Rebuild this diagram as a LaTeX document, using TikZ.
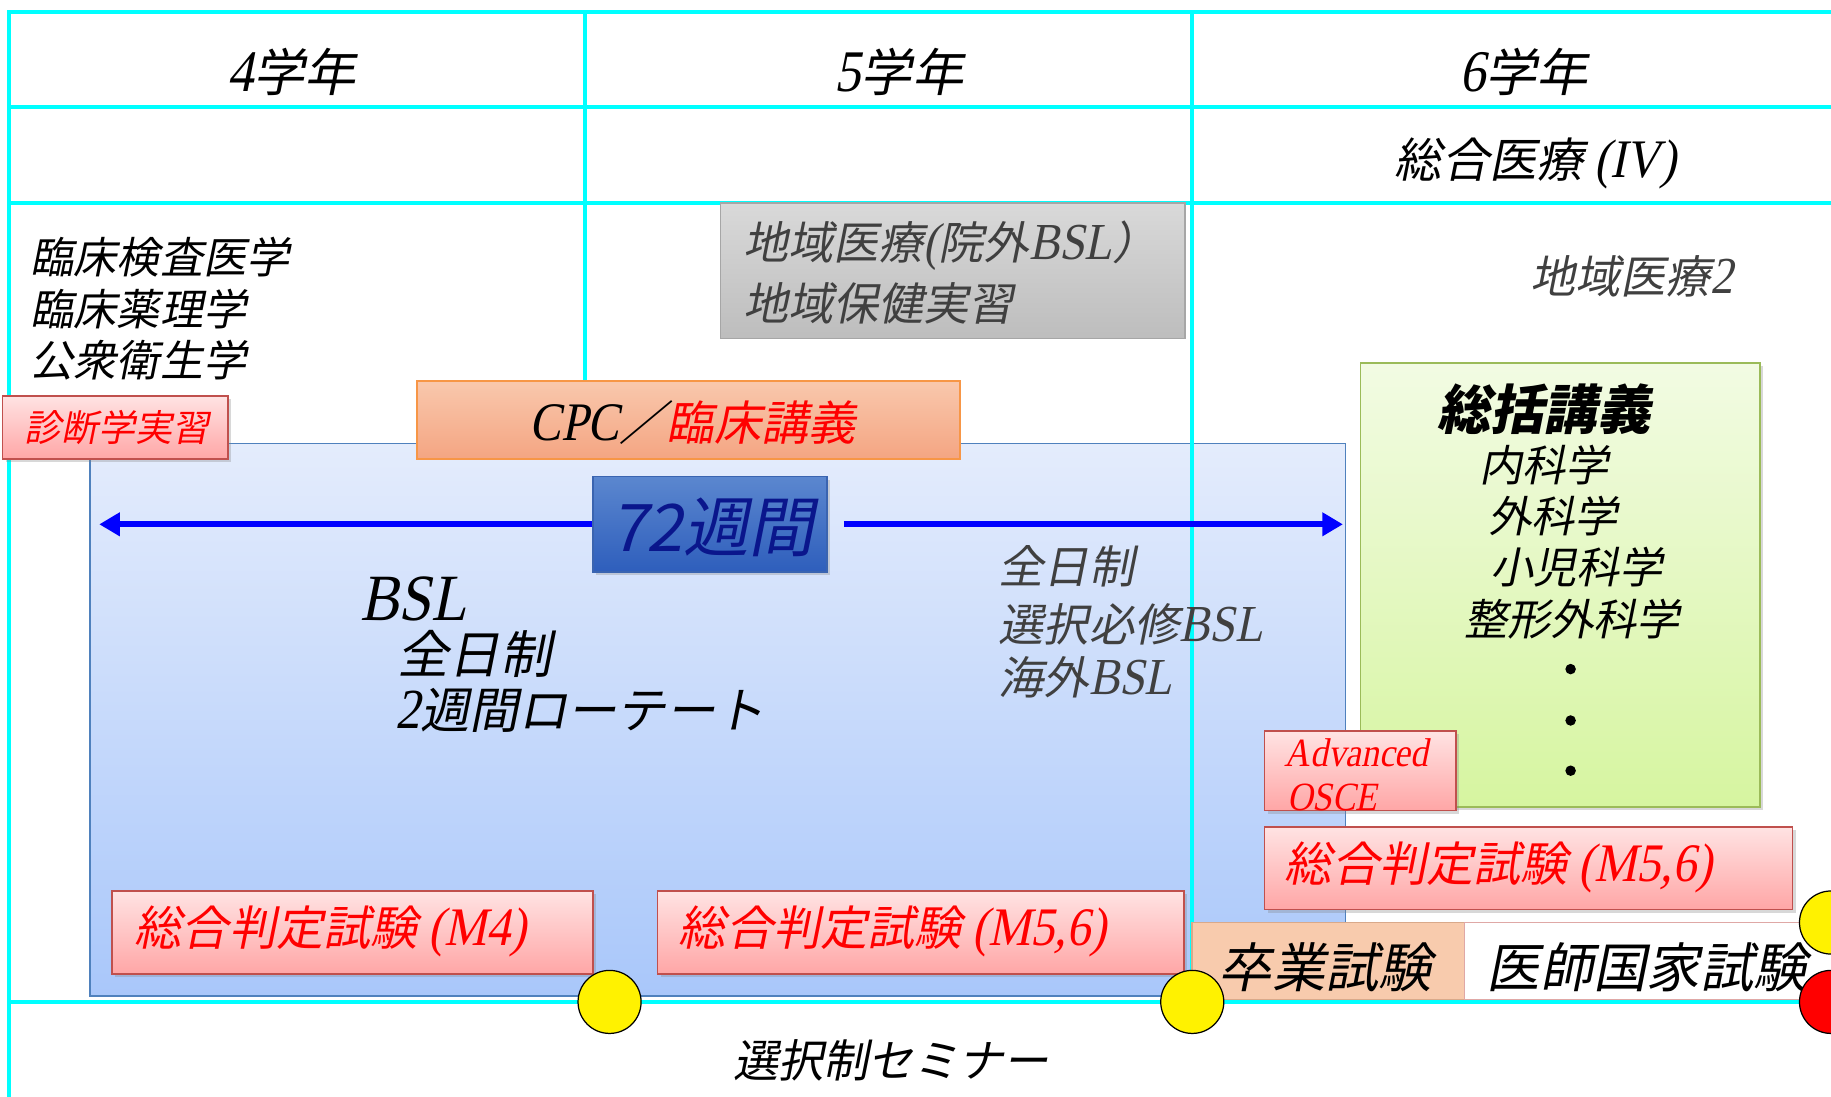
\documentclass[tikz,border=0pt]{standalone}
\usepackage{fontspec}
\setmainfont{Liberation Serif}
\newfontfamily\jpf[FakeSlant=0.2]{Noto Sans CJK JP}
\newfontfamily\latf[FakeSlant=0.2,FakeStretch=0.88,Scale=1.15]{Liberation Serif}
\usetikzlibrary{arrows.meta,shadows}
\newdimen\uu \uu=0.02cm
\newcommand\E[1]{{\latf #1}}
\newcommand\fs[1]{\fontsize{#1pt}{#1pt}\selectfont}
\definecolor{cyanline}{HTML}{00FFFF}
\definecolor{bslTop}{HTML}{E4ECFC}
\definecolor{bslBot}{HTML}{A9C7FA}
\definecolor{bslEdge}{HTML}{4F81BD}
\definecolor{pinkTop}{HTML}{FFE3E3}
\definecolor{pinkBot}{HTML}{FFA6A6}
\definecolor{pinkEdge}{HTML}{C0504D}
\definecolor{cpcTop}{HTML}{F9C8AD}
\definecolor{cpcBot}{HTML}{F4A582}
\definecolor{cpcEdge}{HTML}{F79646}
\definecolor{grayTop}{HTML}{D9D9D9}
\definecolor{grayBot}{HTML}{BDBDBD}
\definecolor{grayEdge}{HTML}{A6A6A6}
\definecolor{grnTop}{HTML}{F2FBE3}
\definecolor{grnBot}{HTML}{D6F5A0}
\definecolor{grnEdge}{HTML}{9BBB59}
\definecolor{wkTop}{HTML}{5B87CF}
\definecolor{wkBot}{HTML}{2E5EBC}
\definecolor{wkEdge}{HTML}{3A64B0}
\definecolor{wkText}{HTML}{0A168C}
\definecolor{gradFill}{HTML}{F8CBAD}
\definecolor{gradEdge}{HTML}{D9A98A}
\definecolor{txtGray}{HTML}{404040}
\tikzset{
  gridline/.style={draw=cyanline, line width=2pt},
  rectbox/.style={rectangle, inner sep=0pt, line width=0.8pt},
  shadowed/.style={drop shadow={shadow xshift=1.6pt, shadow yshift=-1.6pt, opacity=0.3}},
  pinkbox/.style={rectbox, draw=pinkEdge, top color=pinkTop, bottom color=pinkBot, shadowed},
  cpcbox/.style={rectbox, draw=cpcEdge, top color=cpcTop, bottom color=cpcBot},
  graybox/.style={rectbox, draw=grayEdge, top color=grayTop, bottom color=grayBot},
  grnbox/.style={rectbox, draw=grnEdge, top color=grnTop, bottom color=grnBot, shadowed},
  bslbox/.style={rectbox, draw=bslEdge, top color=bslTop, bottom color=bslBot, line width=0.6pt},
  wkbox/.style={rectbox, draw=wkEdge, top color=wkTop, bottom color=wkBot, shadowed},
  gradbox/.style={rectbox, draw=gradEdge, fill=gradFill},
  natlbox/.style={rectbox, draw=pinkEdge!50, fill=white},
  bluearrow/.style={draw=blue, line width=2.8pt, -{Triangle[length=10pt,width=11pt]}},
  ydot/.style={circle, draw=black, line width=0.6pt, fill=yellow, minimum size=54\uu, inner sep=0pt},
  rdot/.style={circle, draw=black, line width=0.6pt, fill=red, minimum size=54\uu, inner sep=0pt},
  smalldot/.style={circle, fill=black, minimum size=9\uu, inner sep=0pt},
  txt/.style={inner sep=0pt},
  redtxt/.style={txt, text=red},
  graytxt/.style={txt, text=txtGray},
}
\begin{document}
\begin{tikzpicture}[x=0.02cm, y=-0.02cm, every node/.style={font=\jpf}]
\useasboundingbox (0,0) rectangle (1568,939);
\clip (0,0) rectangle (1568,939);
\fill[white] (0,0) rectangle (1568,939);
% grid
\draw[gridline] (1568,10) -- (8,10) -- (8,939);
\draw[gridline] (8,92) -- (1568,92);
\draw[gridline] (8,174) -- (1568,174);
\draw[gridline] (501,10) -- (501,400);
% headers
\node[txt] (h4) at (250,62) {\fs{25}\E{4}学年};
\node[txt] (h5) at (770,62) {\fs{25}\E{5}学年};
\node[txt] (h6) at (1305,62) {\fs{25}\E{6}学年};
\node[txt] (sogo) at (1315,140) {\fs{23}総合医療 \E{(IV)}};
% 4th year list
\node[txt, anchor=west] (l1) at (26,220) {\fs{21}臨床検査医学};
\node[txt, anchor=west] (l2) at (26,265) {\fs{21}臨床薬理学};
\node[txt, anchor=west] (l3) at (26,308) {\fs{21}公衆衛生学};
% gray box
\node[graybox, minimum width=398\uu, minimum height=116\uu] (gray) at (816,232) {};
\node[graytxt, anchor=west] (g1) at (636,210) {\fs{22}地域医療\E{(}院外\E{BSL}）};
\node[graytxt, anchor=west] (g2) at (636,260) {\fs{22}地域保健実習};
\node[graytxt, anchor=west] (chiiki2) at (1310,237) {\fs{22}地域医療\E{2}};
% BSL box
\node[bslbox, minimum width=1075\uu, minimum height=473\uu] (bsl) at (614.5,616.5) {};
\draw[gridline] (1021,10) -- (1021,858);
% 72 weeks
\node[wkbox, minimum width=200\uu, minimum height=82\uu] (wk) at (608,449) {};
\node[txt, text=wkText] (wkt) at (610,452) {\fs{32}72週間};
\coordinate (aL) at (85,449);
\coordinate (aR) at (1150,449);
\draw[bluearrow] (wk.west) -- (aL);
\draw[bluearrow] ([xshift=14\uu]wk.east) -- (aR);
% BSL texts
\node[txt, anchor=west] (b1) at (308,513) {\fs{28}\E{BSL}};
\node[txt, anchor=west] (b2) at (340,560) {\fs{25}全日制};
\node[txt, anchor=west] (b3) at (338,608) {\fs{24}\E{2}週間ローテート};
\node[graytxt, anchor=west] (r1) at (855,485) {\fs{22}全日制};
\node[graytxt, anchor=west] (r2) at (855,535) {\fs{22}選択必修\E{BSL}};
\node[graytxt, anchor=west] (r3) at (855,580) {\fs{22}海外\E{BSL}};
% CPC and diag
\node[cpcbox, minimum width=465\uu, minimum height=67\uu] (cpc) at (589.5,359.5) {};
\node[txt] (cpct) at (593,362) {\fs{23}\E{CPC}／\textcolor{red}{臨床講義}};
\node[pinkbox, minimum width=193\uu, minimum height=54\uu] (diag) at (98.5,366) {};
\node[redtxt] (diagt) at (100,366) {\fs{18}診断学実習};
% green box
\node[grnbox, minimum width=342\uu, minimum height=380\uu] (grn) at (1336,501) {};
\node[txt] (k0) at (1322,350) {\fs{26}\bfseries 総括講義};
\node[txt] (k1) at (1322,398) {\fs{21}内科学};
\node[txt] (k2) at (1330,442) {\fs{21}外科学};
\node[txt] (k3) at (1350,486) {\fs{21}小児科学};
\node[txt] (k4) at (1346,530) {\fs{21}整形外科学};
\node[smalldot] (d1) at (1345,573) {};
\node[smalldot] (d2) at (1345,617) {};
\node[smalldot] (d3) at (1345,660) {};
% OSCE and exams
\node[pinkbox, minimum width=164\uu, minimum height=68\uu] (osce) at (1165,660) {};
\node[redtxt, anchor=west] (osce1) at (1100,645) {\fs{17}\E{Advanced}};
\node[redtxt, anchor=west] (osce2) at (1102,683) {\fs{17}\E{OSCE}};
\node[pinkbox, minimum width=452\uu, minimum height=71\uu] (m56b) at (1309,743.5) {};
\node[redtxt, anchor=west] (m56bt) at (1100,743) {\fs{23}総合判定試験 \E{(M5,6)}};
\node[pinkbox, minimum width=412\uu, minimum height=71\uu] (m4) at (302,798.5) {};
\node[redtxt, anchor=west] (m4t) at (115,798) {\fs{23}総合判定試験 \E{(M4)}};
\node[pinkbox, minimum width=451\uu, minimum height=71\uu] (m56a) at (788.5,798.5) {};
\node[redtxt, anchor=west] (m56at) at (581,798) {\fs{23}総合判定試験 \E{(M5,6)}};
% graduation / national
\node[gradbox, minimum width=233\uu, minimum height=66\uu] (grad) at (1137.5,823) {};
\node[txt] (gradt) at (1135,828) {\fs{26}卒業試験};
\node[natlbox, minimum width=330\uu, minimum height=66\uu] (natl) at (1419,823) {};
\node[txt, anchor=west] (natlt) at (1273,828) {\fs{26}医師国家試験};
\draw[gridline] (8,858) -- (1545,858);
% circles
\node[ydot] (c1) at (522,858) {};
\node[ydot] (c2) at (1021,858) {};
\node[ydot] (c3) at (1568,790) {};
\node[rdot] (c4) at (1568,858) {};
% seminar
\node[txt] (sem) at (763,908) {\fs{22}選択制セミナー};
\end{tikzpicture}
\end{document}
